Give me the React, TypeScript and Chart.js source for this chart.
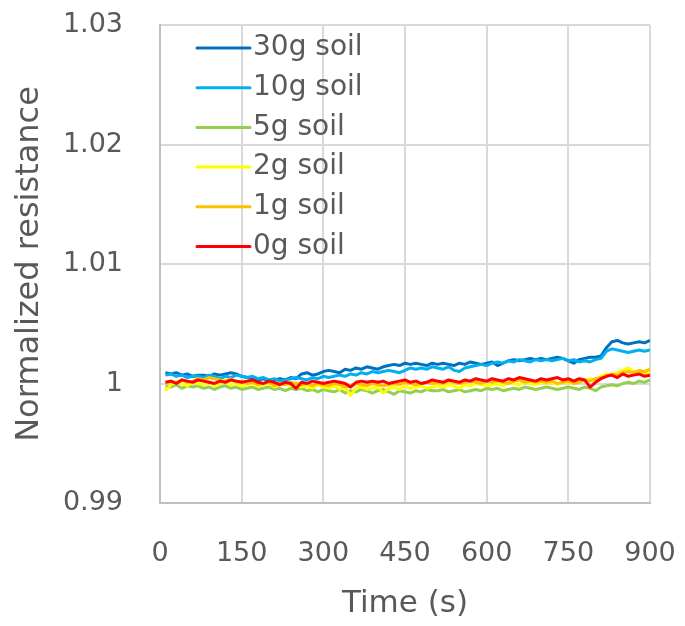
import React, { useEffect, useRef } from 'react';
import { Chart, registerables } from 'chart.js';

Chart.register(...registerables);

const times = [
  10, 20, 30, 40, 50, 60, 70, 80, 90, 100, 110, 120, 130, 140, 150,
  160, 170, 180, 190, 200, 210, 220, 230, 240, 250, 260, 270, 280, 290, 300,
  310, 320, 330, 340, 350, 360, 370, 380, 390, 400, 410, 420, 430, 440, 450,
  460, 470, 480, 490, 500, 510, 520, 530, 540, 550, 560, 570, 580, 590, 600,
  610, 620, 630, 640, 650, 660, 670, 680, 690, 700, 710, 720, 730, 740, 750,
  760, 770, 780, 790, 800, 810, 820, 830, 840, 850, 860, 870, 880, 890, 900,
];

const soil30g = [
  1.0009, 1.0008, 1.0009, 1.0007, 1.0008, 1.0006,
  1.0007, 1.0007, 1.0006, 1.0008, 1.0007, 1.0008, 1.0009, 1.0008, 1.0006,
  1.0005, 1.0004, 1.0003, 1.0004, 1.0002, 1.0003, 1.0004, 1.0003, 1.0005, 1.0004,
  1.0008, 1.0009, 1.0007, 1.0008, 1.0010,
  1.0011, 1.0010, 1.0009, 1.0012, 1.0011, 1.0013, 1.0012, 1.0014, 1.0013, 1.0012,
  1.0014, 1.0015, 1.0016, 1.0015, 1.0017, 1.0016, 1.0017, 1.0016, 1.0015, 1.0017,
  1.0016, 1.0017, 1.0016, 1.0015, 1.0017, 1.0016, 1.0018, 1.0017, 1.0016, 1.0017,
  1.0018, 1.0015, 1.0017, 1.0019, 1.0020, 1.0019, 1.0020, 1.0021, 1.0020, 1.0021,
  1.0020, 1.0021, 1.0022, 1.0021, 1.0019, 1.0017, 1.0020, 1.0021, 1.0022, 1.0022, 1.0023,
  1.0030, 1.0035, 1.0036, 1.0034, 1.0033, 1.0034, 1.0035, 1.0034, 1.0036,
];

const soil10g = [
  1.0007, 1.0008, 1.0006, 1.0007, 1.0005, 1.0006,
  1.0006, 1.0005, 1.0007, 1.0006, 1.0004, 1.0006, 1.0005, 1.0007, 1.0006,
  1.0005, 1.0006, 1.0004, 1.0005, 1.0003, 1.0004, 1.0002, 1.0003, 1.0004, 1.0005,
  1.0004, 1.0003, 1.0005, 1.0004, 1.0006,
  1.0005, 1.0006, 1.0007, 1.0006, 1.0008, 1.0007, 1.0009, 1.0008, 1.0010, 1.0009,
  1.0010, 1.0011, 1.0010, 1.0009, 1.0011, 1.0013, 1.0012, 1.0013, 1.0012, 1.0014,
  1.0013, 1.0012, 1.0014, 1.0011, 1.0010, 1.0013, 1.0014, 1.0015, 1.0016, 1.0015,
  1.0017, 1.0018, 1.0017, 1.0019, 1.0018, 1.0020, 1.0019, 1.0018, 1.0020, 1.0019,
  1.0020, 1.0019, 1.0020, 1.0021, 1.0019, 1.0020, 1.0018, 1.0019, 1.0018, 1.0020, 1.0021,
  1.0027, 1.0029, 1.0028, 1.0027, 1.0026, 1.0027, 1.0028, 1.0027, 1.0028,
];

const soil5g = [
  0.9998, 0.9997, 0.9999, 0.9996, 0.9998, 0.9997,
  0.9998, 0.9996, 0.9997, 0.9995, 0.9997, 0.9998, 0.9996, 0.9997, 0.9995,
  0.9996, 0.9997, 0.9995, 0.9996, 0.9997, 0.9995, 0.9996, 0.9994, 0.9996, 0.9995,
  0.9996, 0.9994, 0.9995, 0.9993, 0.9995,
  0.9994, 0.9993, 0.9995, 0.9992, 0.9994, 0.9993, 0.9995, 0.9994, 0.9992, 0.9994,
  0.9995, 0.9993, 0.9991, 0.9994, 0.9993, 0.9992, 0.9994, 0.9993, 0.9995, 0.9994,
  0.9994, 0.9995, 0.9993, 0.9994, 0.9995, 0.9993, 0.9994, 0.9995, 0.9994, 0.9996,
  0.9995, 0.9996, 0.9994, 0.9995, 0.9996, 0.9995, 0.9997, 0.9996, 0.9995, 0.9996,
  0.9997, 0.9996, 0.9995, 0.9996, 0.9997, 0.9996, 0.9995, 0.9997, 0.9996, 0.9994, 0.9997,
  0.9998, 0.9999, 0.9998, 1.0000, 1.0001, 1.0000, 1.0002, 1.0001, 1.0003,
];

const soil2g = [
  0.9994, 0.9999, 1.0001, 1.0000, 0.9998, 1.0001,
  1.0000, 0.9999, 1.0001, 0.9998, 1.0000, 1.0001, 0.9999, 1.0000, 0.9998,
  0.9999, 1.0000, 0.9998, 0.9999, 1.0000, 0.9997, 0.9999, 1.0000, 0.9998, 0.9999,
  0.9997, 0.9998, 0.9996, 0.9999, 0.9997,
  0.9996, 0.9998, 0.9995, 0.9997, 0.9990, 0.9996, 0.9997, 0.9995, 0.9996, 0.9997,
  0.9992, 0.9996, 0.9997, 0.9995, 0.9998, 0.9996, 0.9997, 0.9998, 0.9996, 0.9997,
  0.9998, 0.9997, 0.9999, 0.9998, 0.9996, 0.9999, 0.9998, 1.0000, 0.9999, 0.9998,
  0.9999, 1.0000, 0.9998, 1.0001, 1.0000, 0.9999, 1.0001, 1.0000, 0.9999, 1.0001,
  1.0000, 1.0001, 0.9999, 1.0002, 1.0000, 1.0001, 1.0003, 1.0002, 1.0004, 1.0002, 1.0006,
  1.0008, 1.0007, 1.0009, 1.0011, 1.0013, 1.0010, 1.0009, 1.0008, 1.0010,
];

const soil1g = [
  1.0000, 1.0002, 1.0001, 1.0003, 1.0001, 1.0002,
  1.0004, 1.0003, 1.0005, 1.0004, 1.0003, 1.0002, 1.0004, 1.0001, 1.0002,
  1.0000, 1.0001, 0.9999, 1.0000, 1.0001, 0.9998, 1.0000, 0.9999, 1.0001, 1.0000,
  0.9999, 1.0000, 0.9998, 1.0000, 0.9999,
  0.9998, 1.0000, 0.9999, 0.9997, 0.9998, 1.0000, 0.9999, 0.9998, 1.0000, 0.9999,
  0.9998, 0.9999, 1.0000, 0.9999, 1.0001, 1.0000, 0.9999, 1.0000, 1.0001, 1.0000,
  1.0001, 1.0000, 1.0002, 1.0001, 1.0000, 1.0001, 1.0002, 1.0001, 1.0000, 1.0002,
  1.0001, 1.0002, 1.0001, 1.0000, 1.0002, 1.0003, 1.0001, 1.0002, 1.0001, 1.0002,
  1.0001, 1.0002, 1.0000, 1.0001, 1.0002, 1.0000, 1.0001, 1.0003, 1.0002, 1.0004, 1.0005,
  1.0006, 1.0008, 1.0007, 1.0009, 1.0010, 1.0009, 1.0011, 1.0010, 1.0012,
];

const soil0g = [
  1.0001, 1.0002, 1.0000, 1.0003, 1.0002, 1.0001,
  1.0003, 1.0002, 1.0001, 1.0000, 1.0002, 1.0001, 1.0003, 1.0002, 1.0001,
  1.0002, 1.0003, 1.0001, 1.0000, 1.0002, 1.0001, 0.9999, 1.0001, 1.0000, 0.9996,
  1.0001, 1.0000, 1.0002, 1.0001, 1.0000,
  1.0001, 1.0002, 1.0001, 1.0000, 0.9997, 1.0001, 1.0002, 1.0001, 1.0002, 1.0001,
  1.0002, 1.0000, 1.0001, 1.0002, 1.0003, 1.0001, 1.0002, 1.0000, 1.0001, 1.0003,
  1.0002, 1.0001, 1.0003, 1.0002, 1.0001, 1.0003, 1.0002, 1.0004, 1.0003, 1.0002,
  1.0004, 1.0003, 1.0002, 1.0004, 1.0003, 1.0005, 1.0004, 1.0003, 1.0002, 1.0004,
  1.0003, 1.0004, 1.0005, 1.0003, 1.0004, 1.0002, 1.0004, 1.0003, 0.9997, 1.0001, 1.0004,
  1.0006, 1.0007, 1.0005, 1.0008, 1.0006, 1.0007, 1.0008, 1.0006, 1.0007,
];

const seriesLabels = ['30g soil', '10g soil', '5g soil', '2g soil', '1g soil', '0g soil'];
const seriesColors = ['#0070C0', '#00B0F0', '#92D050', '#FFFF00', '#FFC000', '#FF0000'];
const seriesValues = [soil30g, soil10g, soil5g, soil2g, soil1g, soil0g];

const xTickValues = [0, 150, 300, 450, 600, 750, 900];
const yTickValues = [0.99, 1, 1.01, 1.02, 1.03];
const yTickLabels = ['0.99', '1', '1.01', '1.02', '1.03'];

const FONT = '"DejaVu Sans", sans-serif';
const TEXT = '#595959';
const GRID = '#d9d9d9';

const insideLegend = {
  id: 'insideLegend',
  afterDraw(chart: any) {
    const { ctx, chartArea } = chart;
    ctx.save();
    chart.data.datasets.forEach((ds: any, i: number) => {
      const y = chartArea.top + 23 + i * 39.7;
      const x0 = chartArea.left + 37;
      ctx.strokeStyle = ds.borderColor;
      ctx.lineWidth = 3;
      ctx.lineCap = 'round';
      ctx.beginPath();
      ctx.moveTo(x0, y);
      ctx.lineTo(x0 + 53, y);
      ctx.stroke();
      ctx.fillStyle = TEXT;
      ctx.font = `28px ${FONT}`;
      ctx.textAlign = 'left';
      ctx.textBaseline = 'middle';
      ctx.fillText(ds.label, x0 + 56, y);
    });
    ctx.restore();
  },
};

export default function App() {
  const ref = useRef<HTMLCanvasElement | null>(null);

  useEffect(() => {
    if (!ref.current) return;
    const datasets = seriesLabels.map((label, i) => ({
      label,
      data: times.map((t, j) => ({ x: t, y: seriesValues[i][j] })),
      borderColor: seriesColors[i],
      backgroundColor: seriesColors[i],
      borderWidth: 3,
      pointRadius: 0,
      borderJoinStyle: 'round' as const,
      tension: 0,
      order: seriesLabels.length - i,
    }));

    const chart = new Chart(ref.current, {
      type: 'line',
      data: { datasets },
      options: {
        animation: false,
        responsive: false,
        devicePixelRatio: 1,
        layout: { padding: { top: 25, right: 35, left: 0, bottom: 0 } },
        plugins: {
          legend: { display: false },
          tooltip: { enabled: false },
        },
        scales: {
          x: {
            type: 'linear',
            min: 0,
            max: 900,
            afterBuildTicks: (scale: any) => {
              scale.ticks = xTickValues.map((v) => ({ value: v }));
            },
            afterFit: (scale: any) => {
              scale.height = 123;
              scale.paddingLeft = 0;
              scale.paddingRight = 0;
              scale.paddingTop = 0;
              scale.paddingBottom = 0;
            },
            ticks: {
              color: TEXT,
              font: { family: FONT, size: 27 },
              padding: 35,
              maxRotation: 0,
              autoSkip: false,
            },
            grid: { color: GRID, lineWidth: 2, drawTicks: false },
            border: { color: '#bfbfbf', width: 2 },
            title: {
              display: true,
              text: 'Time (s)',
              color: TEXT,
              font: { family: FONT, size: 31 },
              padding: { top: 0, bottom: 3 },
            },
          },
          y: {
            type: 'linear',
            min: 0.99,
            max: 1.03,
            afterBuildTicks: (scale: any) => {
              scale.ticks = yTickValues.map((v) => ({ value: v }));
            },
            afterFit: (scale: any) => {
              scale.width = 160;
              scale.paddingLeft = 0;
              scale.paddingRight = 0;
              scale.paddingTop = 0;
              scale.paddingBottom = 0;
            },
            ticks: {
              color: TEXT,
              font: { family: FONT, size: 27 },
              padding: 37,
              autoSkip: false,
              callback: (_v: any, idx: number) => yTickLabels[idx],
            },
            grid: { color: GRID, lineWidth: 2, drawTicks: false },
            border: { color: '#bfbfbf', width: 2 },
            title: {
              display: true,
              text: 'Normalized resistance',
              color: TEXT,
              font: { family: FONT, size: 32 },
              padding: { top: 10, bottom: 0 },
            },
          },
        },
      },
      plugins: [insideLegend],
    });
    return () => chart.destroy();
  }, []);

  return (
    <div style={{ position: 'absolute', left: 0, top: 0, width: 685, height: 626, background: '#fff' }}>
      <canvas ref={ref} width={685} height={626} />
    </div>
  );
}
